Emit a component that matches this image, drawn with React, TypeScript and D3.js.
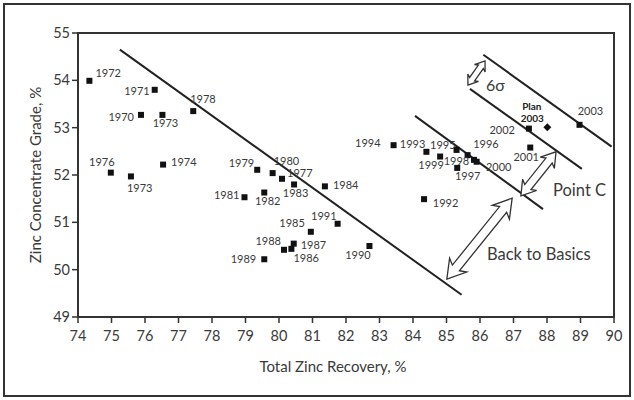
import React from "react";
import * as d3 from "d3";

// Yearly operating results: total zinc recovery (%) vs concentrate grade (%)
const years = [
  "1972", "1971", "1970", "1973", "1978", "1976", "1973", "1974",
  "1979", "1980", "1977", "1983", "1984", "1981", "1982", "1991",
  "1985", "1988", "1987", "1986", "1989", "1990", "1994", "1993",
  "1995", "1996", "1999", "1998", "1997", "2000", "1992", "2002",
  "2001", "2003",
];
const recovery = [
  74.34, 76.29, 75.88, 76.52, 77.44, 74.98, 75.58, 76.54,
  79.35, 79.81, 80.09, 80.45, 81.37, 78.97, 79.56, 81.75,
  80.95, 80.15, 80.44, 80.37, 79.56, 82.7, 83.42, 84.4,
  85.3, 85.63, 84.81, 85.82, 85.32, 85.9, 84.33, 87.46,
  87.5, 88.97,
];
const grade = [
  53.99, 53.8, 53.27, 53.27, 53.35, 52.05, 51.97, 52.22,
  52.11, 52.04, 51.92, 51.8, 51.76, 51.53, 51.63, 50.97,
  50.8, 50.42, 50.55, 50.44, 50.22, 50.5, 52.63, 52.49,
  52.53, 52.42, 52.39, 52.32, 52.15, 52.28, 51.49, 52.98,
  52.58, 53.06,
];

// Where each year label sits relative to its marker: [anchor, dx, dy]
const labelPlacement: [string, number, number][] = [
  ["start", 6, -4], ["end", -5, 5], ["end", -7, 6], ["middle", 3, 12],
  ["start", -3, -8.5], ["middle", -9, -7], ["start", -4, 16], ["start", 8, 1],
  ["end", -3, -3], ["start", 1, -8], ["start", 5, -2], ["middle", 1.5, 13],
  ["start", 8, 3], ["end", -5, 1.5], ["middle", 3.5, 12.6], ["end", -1, -4],
  ["end", -6, -5], ["end", -3, -5], ["start", 7, 5], ["start", 2, 13.6],
  ["end", -8, 3.4], ["middle", -11.5, 13], ["end", -13, 2.3], ["end", -1, -4],
  ["end", -1, -1], ["start", 5.6, -6.7], ["middle", -9, 12], ["end", -4.7, 5],
  ["start", -2.3, 12], ["start", 9.3, 9.3], ["start", 8.7, 7.4], ["end", -14, 5.3],
  ["middle", -4, 13], ["middle", 11, -9.7],
];

// Planned 2003 result
const planRecovery = 88.01;
const planGrade = 53.01;

// Axis ticks
const xTicks = d3.range(74, 91, 1);
const yTicks = d3.range(49, 56, 1);

// Trend lines as [recovery, grade] endpoints
const historicTrend: [number, number][] = [[75.25, 54.65], [85.45, 49.47]];
const bandLower: [number, number][] = [[84.06, 53.25], [87.88, 51.28]];
const bandMiddle: [number, number][] = [[85.7, 53.82], [89.04, 52.13]];
const bandUpper: [number, number][] = [[86.1, 54.54], [89.93, 52.6]];

// Double-headed callout arrows as [recovery, grade] tips
const sigmaArrow: [number, number][] = [[85.64, 53.9], [86.15, 54.41]];
const pointCArrow: [number, number][] = [[87.22, 51.56], [88.27, 52.49]];
const basicsArrow: [number, number][] = [[85.01, 49.8], [86.96, 51.51]];

const W = 634;
const H = 400;
const FONT = "Lato, 'Open Sans', sans-serif";
const INK = "#3a3a3a";

const x = d3.scaleLinear().domain([74, 90]).range([78, 614]);
const y = d3.scaleLinear().domain([49, 55]).range([317, 33]);

// Outline of a hollow double-headed arrow between two pixel points
function doubleArrow(
  p1: [number, number],
  p2: [number, number],
  shaft: number,
  head: number,
  len: number
): string {
  const dx = p2[0] - p1[0];
  const dy = p2[1] - p1[1];
  const d = Math.hypot(dx, dy);
  const ux = dx / d, uy = dy / d;
  const nx = -uy, ny = ux;
  const pt = (b: [number, number], a: number, n: number) =>
    [b[0] + ux * a + nx * n, b[1] + uy * a + ny * n] as [number, number];
  const pts = [
    p1,
    pt(p1, len, head),
    pt(p1, len * 0.8, shaft),
    pt(p2, -len * 0.8, shaft),
    pt(p2, -len, head),
    p2,
    pt(p2, -len, -head),
    pt(p2, -len * 0.8, -shaft),
    pt(p1, len * 0.8, -shaft),
    pt(p1, len, -head),
  ];
  return "M" + pts.map((p) => p.join(",")).join("L") + "Z";
}

const toPx = (seg: [number, number][]) =>
  seg.map((p) => [x(p[0]), y(p[1])] as [number, number]);

export default function App() {
  const line = d3.line<[number, number]>();
  const arrows = [
    { seg: sigmaArrow, shaft: 3, head: 6.5, len: 9 },
    { seg: pointCArrow, shaft: 4, head: 9, len: 14 },
    { seg: basicsArrow, shaft: 4.5, head: 11, len: 18 },
  ];
  return (
    <div style={{ position: "fixed", left: 0, top: 0 }}>
      <svg width={W} height={H} style={{ display: "block", background: "#fff" }}>
        {/* outer frame */}
        <rect x={4} y={4} width={626} height={392} fill="none" stroke="#333" strokeWidth={2} />

        {/* plot frame */}
        <rect
          x={x(74)}
          y={y(55)}
          width={x(90) - x(74)}
          height={y(49) - y(55)}
          fill="none"
          stroke="#333"
          strokeWidth={2}
        />

        {/* y axis */}
        {yTicks.map((t) => (
          <g key={"y" + t}>
            <line x1={x(74) - 6} x2={x(74)} y1={y(t)} y2={y(t)} stroke="#333" strokeWidth={1.5} />
            <text
              x={x(74) - 8}
              y={y(t)}
              dy="0.35em"
              textAnchor="end"
              fontFamily={FONT}
              fontSize={14.5}
              fill={INK}
            >
              {t}
            </text>
          </g>
        ))}

        {/* x axis */}
        {xTicks.map((t) => (
          <g key={"x" + t}>
            <line x1={x(t)} x2={x(t)} y1={y(49)} y2={y(49) + 6} stroke="#333" strokeWidth={1.5} />
            <text
              x={x(t)}
              y={341}
              textAnchor="middle"
              fontFamily={FONT}
              fontSize={14.5}
              fill={INK}
            >
              {t}
            </text>
          </g>
        ))}

        <text x={333} y={372} textAnchor="middle" fontFamily={FONT} fontSize={15} fill={INK}>
          Total Zinc Recovery, %
        </text>
        <text
          transform={`translate(41,${(y(49) + y(55)) / 2}) rotate(-90)`}
          textAnchor="middle"
          fontFamily={FONT}
          fontSize={15}
          fill={INK}
        >
          Zinc Concentrate Grade, %
        </text>

        {/* trend lines */}
        {[historicTrend, bandLower, bandMiddle, bandUpper].map((seg, i) => (
          <path key={"l" + i} d={line(toPx(seg)) || ""} stroke="#222" strokeWidth={2} fill="none" />
        ))}

        {/* callout arrows */}
        {arrows.map((a, i) => {
          const [p1, p2] = toPx(a.seg);
          return (
            <path
              key={"a" + i}
              d={doubleArrow(p1, p2, a.shaft, a.head, a.len)}
              fill="#fff"
              stroke="#333"
              strokeWidth={1.3}
              strokeLinejoin="miter"
            />
          );
        })}

        {/* yearly results */}
        {years.map((yr, i) => {
          const cx = x(recovery[i]);
          const cy = y(grade[i]);
          const [anchor, dx, dy] = labelPlacement[i];
          return (
            <g key={"p" + i}>
              <rect x={cx - 3} y={cy - 3} width={6} height={6} fill="#111" />
              <text
                x={cx + dx}
                y={cy + dy}
                textAnchor={anchor}
                fontFamily={FONT}
                fontSize={11}
                fill={INK}
              >
                {yr}
              </text>
            </g>
          );
        })}

        {/* plan point */}
        <rect
          x={x(planRecovery) - 2.8}
          y={y(planGrade) - 2.8}
          width={5.6}
          height={5.6}
          fill="#111"
          transform={`rotate(45 ${x(planRecovery)} ${y(planGrade)})`}
        />
        <text
          x={x(planRecovery) - 15.5}
          y={y(planGrade) - 17}
          textAnchor="middle"
          fontFamily={FONT}
          fontSize={10}
          fontWeight="bold"
          fill="#222"
        >
          Plan
        </text>
        <text
          x={x(planRecovery) - 15}
          y={y(planGrade) - 5}
          textAnchor="middle"
          fontFamily={FONT}
          fontSize={10}
          fontWeight="bold"
          fill="#222"
        >
          2003
        </text>

        {/* annotation text */}
        <text x={486} y={91} fontFamily={FONT} fontSize={16} fill={INK}>
          6σ
        </text>
        <text x={553} y={196} fontFamily={FONT} fontSize={16.5} fill={INK}>
          Point C
        </text>
        <text x={487} y={260} fontFamily={FONT} fontSize={16.5} fill={INK}>
          Back to Basics
        </text>
      </svg>
    </div>
  );
}
